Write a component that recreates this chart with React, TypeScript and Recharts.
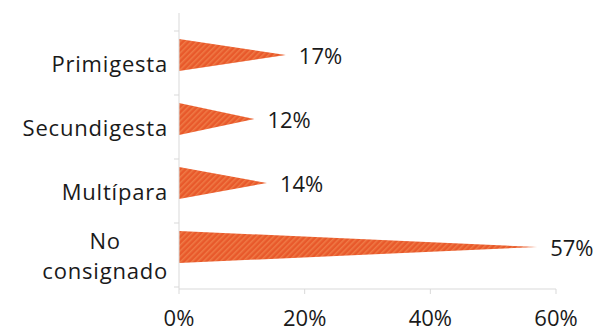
import React from "react";
import { BarChart, Bar, XAxis, YAxis, LabelList } from "recharts";

const categories = ["Primigesta", "Secundigesta", "Multípara", "No consignado"];
const percentValues = [17, 12, 14, 57];
const xTicks = [0, 20, 40, 60];

const data = categories.map((c, i) => ({ name: c, value: percentValues[i] }));

const FONT = "'Open Sans', sans-serif";
const FONT_SIZE = 22;
const LETTER_SP = 0.8;
const TEXT = "#1a1a1a";
const AXIS = "#d9d9d9";
const SHIFT = 8;

let ctx: CanvasRenderingContext2D | null = null;
function measure(s: string): number {
  const fallback = s.length * (FONT_SIZE * 0.55 + LETTER_SP);
  if (typeof document === "undefined") return fallback;
  if (!ctx) ctx = document.createElement("canvas").getContext("2d");
  if (!ctx) return fallback;
  ctx.font = `${FONT_SIZE}px 'Open Sans'`;
  return ctx.measureText(s).width + s.length * LETTER_SP;
}

const Triangle = (props: any) => {
  const { x, y, width, height } = props;
  if (!width) return null;
  const pts = `${x},${y} ${x},${y + height} ${x + width},${y + height / 2}`;
  return <polygon points={pts} fill="url(#hatch)" />;
};

const YTick = (props: any) => {
  const { x, y, payload, index, visibleTicksCount } = props;
  const axisX = x + 11;
  const half = payload.offset || 32;
  const label: string = String(payload.value);
  const lines = label.includes(" ") ? label.split(" ") : [label];
  const cy = y + SHIFT;
  const tickLines = [
    <line key="t0" x1={axisX - 5} x2={axisX} y1={y - half + SHIFT} y2={y - half + SHIFT} stroke={AXIS} />,
  ];
  if (index === (visibleTicksCount ?? 4) - 1) {
    tickLines.push(
      <line key="t1" x1={axisX - 5} x2={axisX} y1={y + half + SHIFT} y2={y + half + SHIFT} stroke={AXIS} />
    );
  }
  const common = {
    fontFamily: FONT,
    fontSize: FONT_SIZE,
    fill: TEXT,
    letterSpacing: LETTER_SP,
    dominantBaseline: "central" as const,
  };
  if (lines.length === 1) {
    return (
      <g>
        {tickLines}
        <text x={x} y={cy} textAnchor="end" {...common}>
          {label}
        </text>
      </g>
    );
  }
  const maxW = Math.max(...lines.map(measure));
  const cx = x - maxW / 2;
  const lh = 30;
  const start = cy - ((lines.length - 1) * lh) / 2;
  return (
    <g>
      {tickLines}
      {lines.map((l, i) => (
        <text key={i} x={cx} y={start + i * lh} textAnchor="middle" {...common}>
          {l}
        </text>
      ))}
    </g>
  );
};

const ValueLabel = (props: any) => {
  const { x, y, width, height, value } = props;
  return (
    <text x={x + width + 13} y={y + height / 2} dominantBaseline="central" fontFamily={FONT} fontSize={FONT_SIZE} fill={TEXT}>
      {`${value}%`}
    </text>
  );
};

export default function App() {
  return (
    <div style={{ position: "fixed", top: 0, left: 0, width: 597, height: 335, background: "#fff" }}>
      <BarChart
        width={597}
        height={335}
        data={data}
        layout="vertical"
        margin={{ top: 13, right: 41, left: 0, bottom: 0 }}
        barSize={32}
      >
        <defs>
          <pattern id="hatch" patternUnits="userSpaceOnUse" width="4" height="4" patternTransform="rotate(45)">
            <rect width="4" height="4" fill="#E8592B" />
            <rect width="1.5" height="4" fill="#EF7A46" />
          </pattern>
        </defs>
        <XAxis
          type="number"
          domain={[0, 60]}
          ticks={xTicks}
          tickFormatter={(v: number) => `${v}%`}
          axisLine={{ stroke: AXIS }}
          tickLine={{ stroke: AXIS }}
          tickSize={5}
          tickMargin={16}
          height={46}
          tick={{ fontFamily: FONT, fontSize: FONT_SIZE, fill: TEXT }}
        />
        <YAxis
          type="category"
          dataKey="name"
          width={179}
          axisLine={{ stroke: AXIS }}
          tickLine={false}
          tickSize={0}
          tickMargin={11}
          padding={{ top: 10, bottom: 10 }}
          tick={<YTick />}
          interval={0}
        />
        <Bar dataKey="value" shape={<Triangle />} isAnimationActive={false}>
          <LabelList dataKey="value" content={<ValueLabel />} />
        </Bar>
      </BarChart>
    </div>
  );
}
